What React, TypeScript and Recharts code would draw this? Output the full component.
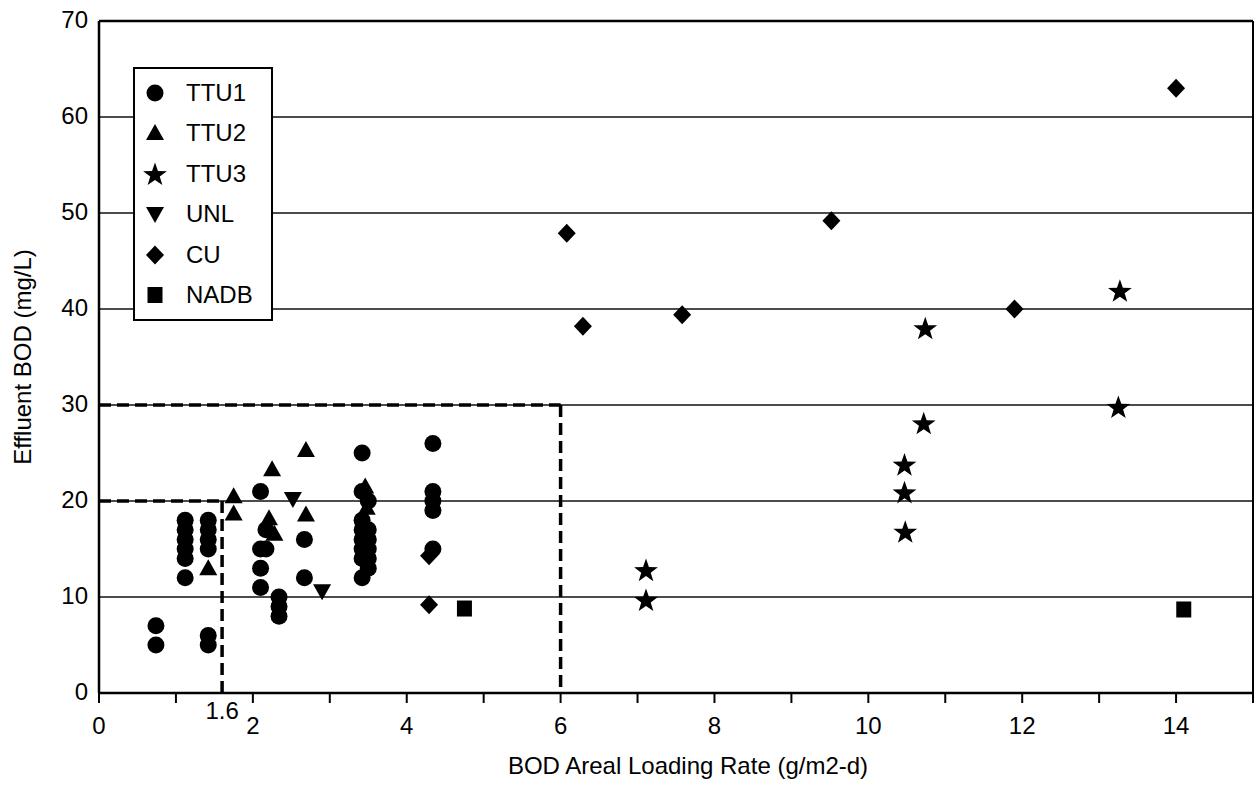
import React from 'react';
import { ScatterChart, Scatter, XAxis, YAxis, CartesianGrid, ReferenceLine, Legend } from 'recharts';

type Pt = { x: number; y: number };

// effluent BOD vs areal loading
const ttu1: Pt[] = [
  { x: 0.74, y: 7 }, { x: 0.74, y: 5 },
  { x: 1.12, y: 18 }, { x: 1.12, y: 17 }, { x: 1.12, y: 16 }, { x: 1.12, y: 15 }, { x: 1.12, y: 14 }, { x: 1.12, y: 12 },
  { x: 1.42, y: 18 }, { x: 1.42, y: 17 }, { x: 1.42, y: 16 }, { x: 1.42, y: 15 }, { x: 1.42, y: 6 }, { x: 1.42, y: 5 },
  { x: 2.1, y: 21 }, { x: 2.1, y: 15 }, { x: 2.1, y: 13 }, { x: 2.1, y: 11 }, { x: 2.17, y: 17 }, { x: 2.17, y: 15 },
  { x: 2.34, y: 10 }, { x: 2.34, y: 9 }, { x: 2.34, y: 8 },
  { x: 2.67, y: 16 }, { x: 2.67, y: 12 },
  { x: 3.42, y: 25 }, { x: 3.42, y: 21 }, { x: 3.42, y: 18 }, { x: 3.42, y: 17 }, { x: 3.42, y: 16 },
  { x: 3.42, y: 15 }, { x: 3.42, y: 14 }, { x: 3.42, y: 12 },
  { x: 3.5, y: 20 }, { x: 3.5, y: 17 }, { x: 3.5, y: 16 }, { x: 3.5, y: 15 }, { x: 3.5, y: 14 }, { x: 3.5, y: 13 },
  { x: 4.34, y: 26 }, { x: 4.34, y: 21 }, { x: 4.34, y: 20 }, { x: 4.34, y: 19 }, { x: 4.34, y: 15 },
];

const ttu2: Pt[] = [
  { x: 1.42, y: 13 }, { x: 1.75, y: 20.5 }, { x: 1.75, y: 18.7 },
  { x: 2.25, y: 23.3 }, { x: 2.21, y: 18.2 }, { x: 2.28, y: 16.6 },
  { x: 2.69, y: 25.3 }, { x: 2.69, y: 18.6 },
  { x: 3.46, y: 21.5 }, { x: 3.48, y: 19.3 },
];

const ttu3: Pt[] = [
  { x: 7.11, y: 12.8 }, { x: 7.11, y: 9.7 },
  { x: 10.47, y: 23.8 }, { x: 10.47, y: 20.9 }, { x: 10.48, y: 16.8 },
  { x: 10.74, y: 38 }, { x: 10.72, y: 28.1 },
  { x: 13.27, y: 41.9 }, { x: 13.25, y: 29.8 },
];

const unl: Pt[] = [{ x: 2.52, y: 20.2 }, { x: 2.9, y: 10.6 }];

const cu: Pt[] = [
  { x: 4.29, y: 14.3 }, { x: 4.29, y: 9.2 },
  { x: 6.08, y: 47.9 }, { x: 6.29, y: 38.2 }, { x: 7.58, y: 39.4 },
  { x: 9.52, y: 49.2 }, { x: 11.9, y: 40 }, { x: 14.0, y: 63 },
];

const nadb: Pt[] = [{ x: 4.75, y: 8.8 }, { x: 14.1, y: 8.7 }];

const xTicks = [0, 1, 2, 3, 4, 5, 6, 7, 8, 9, 10, 11, 12, 13, 14, 15];
const xTickLabels = [0, 2, 4, 6, 8, 10, 12, 14];
const yTicks = [0, 10, 20, 30, 40, 50, 60, 70];

const FONT = '"Liberation Sans", Arial, Helvetica, sans-serif';
const FS = 24;

const Circle = ({ cx, cy }: any) => <circle cx={cx} cy={cy} r={8.5} fill="#000" />;
const TriUp = ({ cx, cy }: any) => (
  <polygon points={`${cx},${cy - 9} ${cx + 9},${cy + 7} ${cx - 9},${cy + 7}`} fill="#000" />
);
const TriDown = ({ cx, cy }: any) => (
  <polygon points={`${cx - 9},${cy - 7} ${cx + 9},${cy - 7} ${cx},${cy + 9}`} fill="#000" />
);
const Diamond = ({ cx, cy }: any) => (
  <polygon points={`${cx},${cy - 9.5} ${cx + 9},${cy} ${cx},${cy + 9.5} ${cx - 9},${cy}`} fill="#000" />
);
const Square = ({ cx, cy }: any) => <rect x={cx - 7.5} y={cy - 8} width={15} height={16} fill="#000" />;
const Star = ({ cx, cy }: any) => {
  const pts: string[] = [];
  for (let i = 0; i < 10; i++) {
    const r = i % 2 === 0 ? 12.5 : 5;
    const a = -Math.PI / 2 + (i * Math.PI) / 5;
    pts.push(`${cx + r * Math.cos(a)},${cy + 1 + r * Math.sin(a)}`);
  }
  return <polygon points={pts.join(' ')} fill="#000" />;
};

const SERIES = [
  { name: 'TTU1', data: ttu1, Shape: Circle },
  { name: 'TTU2', data: ttu2, Shape: TriUp },
  { name: 'TTU3', data: ttu3, Shape: Star },
  { name: 'UNL', data: unl, Shape: TriDown },
  { name: 'CU', data: cu, Shape: Diamond },
  { name: 'NADB', data: nadb, Shape: Square },
];

const LegendBox = () => (
  <div
    style={{
      width: 140,
      height: 254,
      border: '2px solid #000',
      boxSizing: 'border-box',
      background: '#fff',
      fontFamily: FONT,
      fontSize: FS,
      position: 'relative',
    }}
  >
    {SERIES.map((s, i) => (
      <div
        key={s.name}
        style={{ position: 'absolute', left: 0, top: 24 + i * 40.4 - 15, height: 30, display: 'flex', alignItems: 'center' }}
      >
        <svg width={40} height={30} style={{ display: 'block' }}>
          <s.Shape cx={20} cy={15} />
        </svg>
        <span style={{ marginLeft: 11, lineHeight: '30px' }}>{s.name}</span>
      </div>
    ))}
  </div>
);

const XTick = ({ x, y, payload }: any) => {
  if (!xTickLabels.includes(payload.value)) return null;
  return (
    <text x={x} y={y + 22} textAnchor="middle" dominantBaseline="central" fontFamily={FONT} fontSize={FS} fill="#000">
      {payload.value}
    </text>
  );
};

const dash = { stroke: '#000', strokeWidth: 3.5, strokeDasharray: '12 6' };

export default function App() {
  return (
    <div style={{ position: 'absolute', left: 0, top: 0, width: 1256, height: 785, background: '#fff' }}>
      <ScatterChart width={1256} height={785} margin={{ top: 21, right: 3, left: 0, bottom: 0 }}>
        <CartesianGrid horizontal vertical={false} stroke="#111" strokeWidth={1.3} />
        <XAxis
          type="number"
          dataKey="x"
          domain={[0, 15]}
          ticks={xTicks}
          interval={0}
          height={92}
          axisLine={{ stroke: '#000', strokeWidth: 2.5 }}
          tickLine={{ stroke: '#000', strokeWidth: 2 }}
          tickSize={10}
          tickMargin={0}
          tick={<XTick />}
          label={{
            content: ({ viewBox }: any) => (
              <text
                x={viewBox.x + viewBox.width / 2 + 12}
                y={765}
                textAnchor="middle"
                dominantBaseline="central"
                fontFamily={FONT}
                fontSize={FS}
                fill="#000"
              >
                BOD Areal Loading Rate (g/m2-d)
              </text>
            ),
          }}
        />
        <YAxis
          type="number"
          dataKey="y"
          domain={[0, 70]}
          ticks={yTicks}
          interval={0}
          width={99}
          axisLine={{ stroke: '#000', strokeWidth: 2.5 }}
          tickLine={false}
          tickSize={0}
          tickMargin={11}
          tick={{ fontFamily: FONT, fontSize: FS, fill: '#000', dy: -2 }}
          label={{
            content: ({ viewBox }: any) => {
              const cy = viewBox.y + viewBox.height / 2;
              return (
                <text
                  x={22}
                  y={cy}
                  transform={`rotate(-90, 22, ${cy})`}
                  textAnchor="middle"
                  dominantBaseline="central"
                  fontFamily={FONT}
                  fontSize={FS}
                  fill="#000"
                >
                  Effluent BOD (mg/L)
                </text>
              );
            },
          }}
        />
        <ReferenceLine y={70} stroke="#000" strokeWidth={2.5} />
        <ReferenceLine x={15} stroke="#000" strokeWidth={2} />
        <ReferenceLine segment={[{ x: 0, y: 30 }, { x: 6, y: 30 }]} {...dash} />
        <ReferenceLine segment={[{ x: 6, y: 30 }, { x: 6, y: 0 }]} {...dash} />
        <ReferenceLine segment={[{ x: 0, y: 20 }, { x: 1.6, y: 20 }]} {...dash} />
        <ReferenceLine
          segment={[{ x: 1.6, y: 20 }, { x: 1.6, y: 0 }]}
          {...dash}
          label={{
            content: ({ viewBox }: any) => (
              <text
                x={viewBox.x}
                y={viewBox.y + viewBox.height + 17}
                textAnchor="middle"
                dominantBaseline="central"
                fontFamily={FONT}
                fontSize={FS}
                fill="#000"
              >
                1.6
              </text>
            ),
          }}
        />
        {SERIES.map((s) => (
          <Scatter
            key={s.name}
            name={s.name}
            data={s.data}
            fill="#000"
            shape={(p: any) => <s.Shape cx={p.cx} cy={p.cy} />}
            isAnimationActive={false}
          />
        ))}
        <Legend
          layout="vertical"
          align="center"
          verticalAlign="middle"
          wrapperStyle={{ left: 133, top: 67, width: 140, height: 254 }}
          content={() => <LegendBox />}
        />
      </ScatterChart>
    </div>
  );
}
